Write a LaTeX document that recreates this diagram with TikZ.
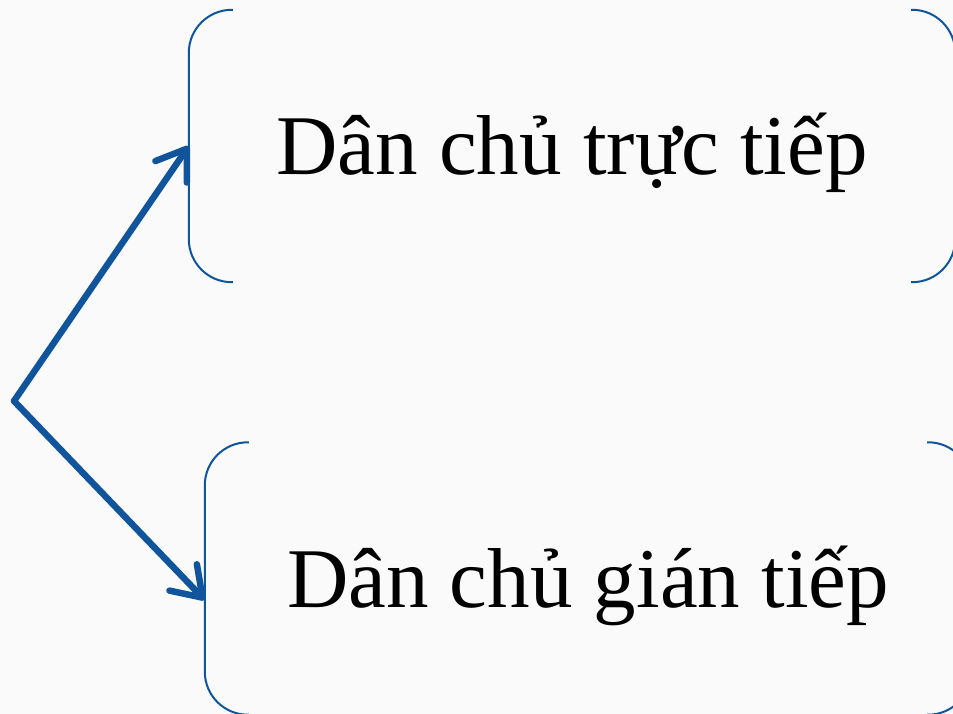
\documentclass[tikz,border=0pt]{standalone}
\usepackage{fontspec}
\setmainfont{Liberation Serif}
\usetikzlibrary{arrows.meta}
\definecolor{formblue}{RGB}{16,84,156}
\definecolor{paper}{RGB}{250,250,250}

\begin{document}
\begin{tikzpicture}[x=1pt,y=-1pt,
  box/.style={minimum width=766pt,minimum height=272pt,inner sep=0pt,
    text height=57pt,text depth=0pt,font=\fontsize{85}{100}\selectfont},
  bracket/.style={draw=formblue,line width=2pt,rounded corners=43pt},
  link/.style={draw=formblue,line width=6.5pt,line cap=round,line join=round,
    -{Straight Barb[length=28pt,width=38pt,round]}}]
\useasboundingbox (0,0) rectangle (953,714);
\clip (0,0) rectangle (953,714);
\fill[paper] (0,0) rectangle (953,714);
% the two forms
\node[box] (direct) at (572,146) {Dân chủ trực tiếp};
\node[box] (indirect) at (588,578.5) {Dân chủ gián tiếp};
% brackets round them
\foreach \b in {direct,indirect}{
  \draw[bracket] ([xshift=44pt]\b.north west) -- (\b.north west)
    -- (\b.south west) -- ([xshift=44pt]\b.south west);
  \draw[bracket] ([xshift=-44pt]\b.north east) -- (\b.north east)
    -- (\b.south east) -- ([xshift=-44pt]\b.south east);
}
\coordinate (split) at (14,401);
\path
(split) edge[link] (direct.west)
(split) edge[link] ([yshift=-21.5pt]indirect.west);
\end{tikzpicture}
\end{document}
